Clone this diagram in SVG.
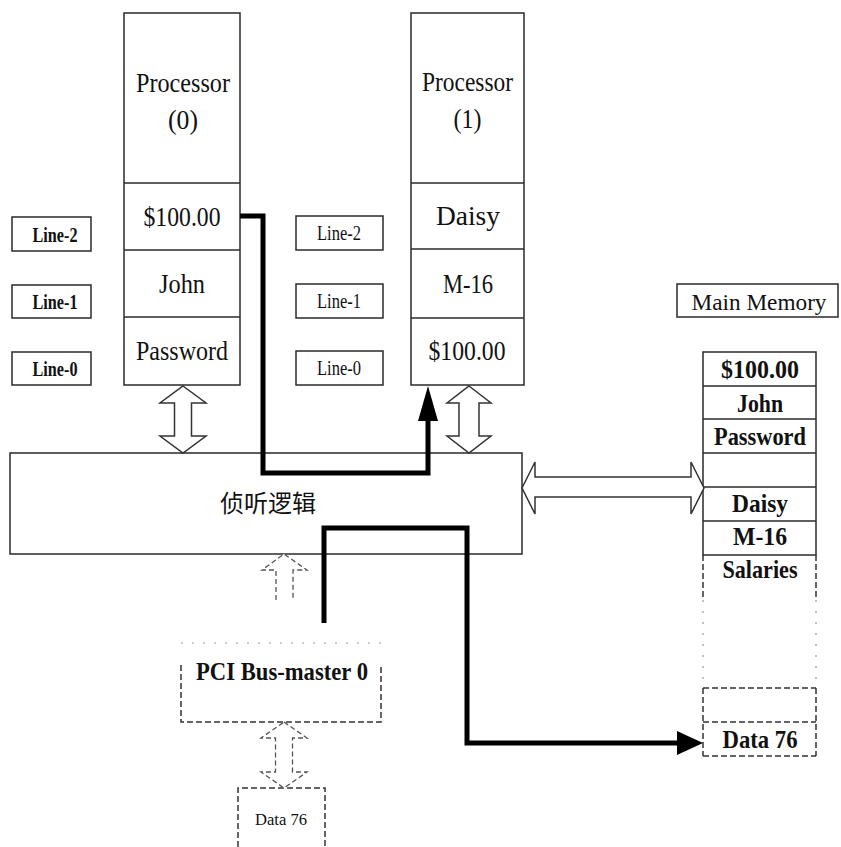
<svg xmlns="http://www.w3.org/2000/svg" width="841" height="847" viewBox="0 0 841 847">
<defs>
<style>
.box{fill:#fff;stroke:#2a2a2a;stroke-width:1.5}
.ln{fill:none;stroke:#2a2a2a;stroke-width:1.5}
.dash{fill:none;stroke:#333;stroke-width:1.5;stroke-dasharray:6 3}
.faint{fill:none;stroke:#999;stroke-width:1.2;stroke-dasharray:2 9}
.t{font-family:"Liberation Serif","Times New Roman",serif;fill:#111;text-anchor:middle}
.big{font-size:28px}
.mem{font-size:26px;font-weight:bold}
.lbl{font-size:20px}
.b{font-weight:bold}
.cjk{font-family:"Liberation Sans","Noto Sans CJK SC",sans-serif;font-size:24px;fill:#111;text-anchor:middle}
.thick{fill:none;stroke:#000;stroke-width:5;stroke-linejoin:miter}
.hollow{fill:#fff;stroke:#333;stroke-width:1.5;stroke-linejoin:miter}
.hollowd{fill:#fff;stroke:#555;stroke-width:1.3;stroke-dasharray:5 3}
</style>
</defs>
<rect width="841" height="847" fill="#fff"/>

<g id="processor0">
<rect class="box" x="124" y="13" width="116" height="372"/>
<line class="ln" x1="124" y1="183" x2="240" y2="183"/>
<line class="ln" x1="124" y1="250" x2="240" y2="250"/>
<line class="ln" x1="124" y1="317" x2="240" y2="317"/>
<text class="t big" x="183" y="92" textLength="94" lengthAdjust="spacingAndGlyphs">Processor</text>
<text class="t big" x="183" y="129" textLength="30" lengthAdjust="spacingAndGlyphs">(0)</text>
<text class="t big" x="182" y="226" textLength="77" lengthAdjust="spacingAndGlyphs">$100.00</text>
<text class="t big" x="182" y="293" textLength="46" lengthAdjust="spacingAndGlyphs">John</text>
<text class="t big" x="182" y="360" textLength="92" lengthAdjust="spacingAndGlyphs">Password</text>
</g>

<g id="processor1">
<rect class="box" x="411" y="13" width="113" height="372"/>
<line class="ln" x1="411" y1="183" x2="524" y2="183"/>
<line class="ln" x1="411" y1="249" x2="524" y2="249"/>
<line class="ln" x1="411" y1="318" x2="524" y2="318"/>
<text class="t big" x="467.5" y="91" textLength="91" lengthAdjust="spacingAndGlyphs">Processor</text>
<text class="t big" x="467.5" y="128" textLength="28" lengthAdjust="spacingAndGlyphs">(1)</text>
<text class="t big" x="468" y="225" textLength="64" lengthAdjust="spacingAndGlyphs">Daisy</text>
<text class="t big" x="468" y="293" textLength="50" lengthAdjust="spacingAndGlyphs">M-16</text>
<text class="t big" x="467" y="360" textLength="77" lengthAdjust="spacingAndGlyphs">$100.00</text>
</g>

<g id="lines-left">
<rect class="box" x="12" y="217" width="79" height="34"/>
<text class="t lbl b" x="55" y="242" textLength="45" lengthAdjust="spacingAndGlyphs">Line-2</text>
<rect class="box" x="12" y="285" width="79" height="33"/>
<text class="t lbl b" x="55" y="309" textLength="45" lengthAdjust="spacingAndGlyphs">Line-1</text>
<rect class="box" x="12" y="352" width="79" height="33"/>
<text class="t lbl b" x="55" y="376" textLength="45" lengthAdjust="spacingAndGlyphs">Line-0</text>
</g>

<g id="lines-right">
<rect class="box" x="296" y="216" width="87" height="34"/>
<text class="t lbl" x="339" y="240" textLength="44" lengthAdjust="spacingAndGlyphs">Line-2</text>
<rect class="box" x="296" y="284" width="87" height="34"/>
<text class="t lbl" x="339" y="308" textLength="44" lengthAdjust="spacingAndGlyphs">Line-1</text>
<rect class="box" x="296" y="351" width="87" height="34"/>
<text class="t lbl" x="339" y="375" textLength="44" lengthAdjust="spacingAndGlyphs">Line-0</text>
</g>

<g id="snoop-logic">
<rect class="box" x="10" y="453" width="512" height="101"/>
<text class="cjk" x="268" y="512">侦听逻辑</text>
</g>

<g id="main-memory-label">
<rect class="box" x="677" y="284" width="161" height="33"/>
<text class="t" x="759" y="310" font-size="24" textLength="135" lengthAdjust="spacingAndGlyphs">Main Memory</text>
</g>

<g id="main-memory">
<rect class="box" x="703" y="352" width="113" height="203"/>
<line class="ln" x1="703" y1="386" x2="816" y2="386"/>
<line class="ln" x1="703" y1="419" x2="816" y2="419"/>
<line class="ln" x1="703" y1="453" x2="816" y2="453"/>
<line class="ln" x1="703" y1="487" x2="816" y2="487"/>
<line class="ln" x1="703" y1="521" x2="816" y2="521"/>
<path class="dash" d="M703,555 V600 M816,555 V600"/>
<path class="faint" d="M703,600 V688 M816,600 V688"/>
<path class="dash" d="M703,688 H816 M703,722 H816 M703,756 H816 M703,688 V756 M816,688 V756"/>
<text class="t mem" x="760" y="378" textLength="78" lengthAdjust="spacingAndGlyphs">$100.00</text>
<text class="t mem" x="760" y="412" textLength="46" lengthAdjust="spacingAndGlyphs">John</text>
<text class="t mem" x="760" y="445" textLength="92" lengthAdjust="spacingAndGlyphs">Password</text>
<text class="t mem" x="760" y="512" textLength="56" lengthAdjust="spacingAndGlyphs">Daisy</text>
<text class="t mem" x="760" y="545" textLength="54" lengthAdjust="spacingAndGlyphs">M-16</text>
<text class="t mem" x="760" y="578" textLength="75" lengthAdjust="spacingAndGlyphs">Salaries</text>
<text class="t mem" x="760" y="748" textLength="75" lengthAdjust="spacingAndGlyphs">Data 76</text>
</g>

<g id="pci-bus-master">
<path class="faint" d="M181,643 H381"/>
<path class="dash" d="M181,665 V722 H381 V665"/>
<text class="t mem" x="282" y="680" textLength="172" lengthAdjust="spacingAndGlyphs">PCI Bus-master 0</text>
</g>

<g id="data76">
<path class="dash" d="M238,847 V788 H325 V847"/>
<text class="t" x="281" y="825" font-size="17" textLength="52" lengthAdjust="spacingAndGlyphs">Data 76</text>
</g>

<g id="connectors">
<polygon class="hollow" points="183,386 206,403 191.5,403 191.5,436 206,436 183,453 160,436 174.5,436 174.5,403 160,403"/>
<polygon class="hollow" points="469,386 491,403 479,403 479,436 491,436 469,453 447,436 459,436 459,403 447,403"/>
<polygon class="hollow" points="522,488 535,462 535,477 691,477 691,462 704,488 691,514 691,497 535,497 535,514"/>
<polygon class="hollowd" points="284,722 307,738 292.5,738 292.5,772 307,772 284,788 261,772 275.5,772 275.5,738 261,738"/>
<path class="hollowd" d="M276,600 V570 H262 L284,554 L307,570 H293 V600"/>
<path class="thick" d="M240,216 H263 V473 H428 V418"/>
<polygon points="428,386 418,421 438,421" fill="#000"/>
<path class="thick" d="M324,623 V528 H467 V743 H680"/>
<polygon points="703,743 677,731 677,755" fill="#000"/>
</g>
</svg>
